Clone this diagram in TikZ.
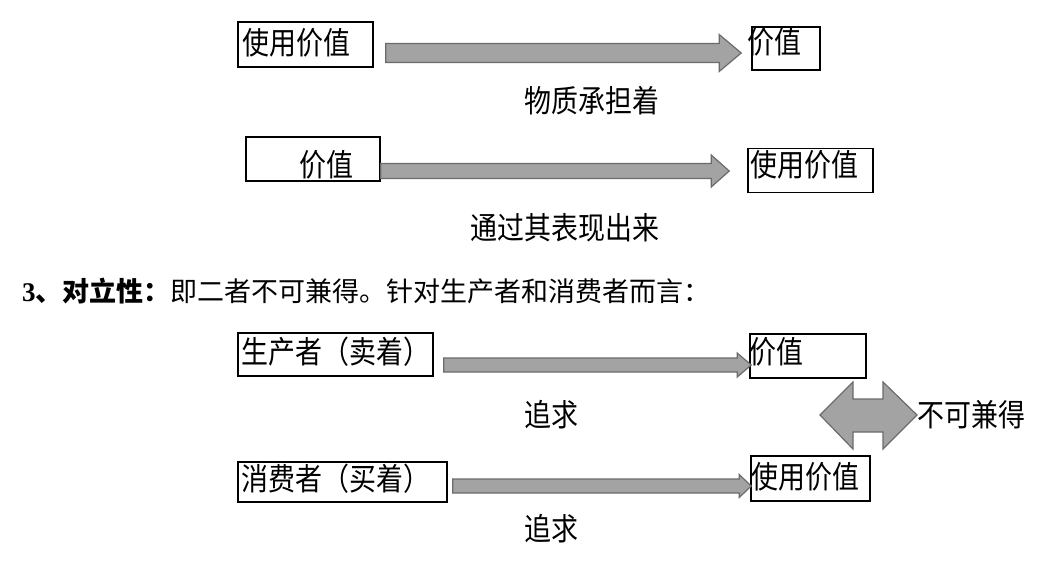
\documentclass[tikz,border=0pt]{standalone}
\usepackage{fontspec}
\setmainfont{Liberation Serif}
\newfontfamily\cjk{Noto Sans CJK SC}
\newfontfamily\cjkt{Noto Sans CJK SC}[FakeStretch=0.87]
\usetikzlibrary{calc}
\tikzset{
  box/.style={draw=black, line width=1.6pt, inner sep=0pt},
  txt/.style={font=\cjkt\fontsize{31}{33}\selectfont, inner sep=0pt, text=black},
  head/.style={font=\cjk\fontsize{27}{30}\selectfont, inner sep=0pt, text=black},
  barrow/.style={fill=black!36, draw=black!58, line width=1.2pt, line join=miter},
}
\newcommand\blockarrow[5]{%
  \filldraw[barrow] let \p1=(#1), \p2=(#2) in
    (\x1,\y1+#3pt) -- (\x2-#5pt,\y1+#3pt) -- (\x2-#5pt,\y1+#4pt) -- (\x2,\y1)
    -- (\x2-#5pt,\y1-#4pt) -- (\x2-#5pt,\y1-#3pt) -- (\x1,\y1-#3pt) -- cycle;}
\begin{document}
\begin{tikzpicture}[x=1pt,y=-1pt]
\useasboundingbox[fill=white] (0,0) rectangle (1044,566);
% row 1
\node[box, minimum width=135pt, minimum height=45pt] (b1) at (305.5,44.5) {};
\node[box, minimum width=68pt, minimum height=43pt] (b2) at (786,48.5) {};
\coordinate (s1) at ($(b1.east)+(12,8.5)$);
\coordinate (e1) at ($(b2.west)+(-10,4.5)$);
\blockarrow{s1}{e1}{9.5}{18.5}{22}
\node[txt, anchor=west] (t1) at (242,43) {使用价值};
\node[txt, anchor=west] (t2) at (747,42) {价值};
\node[txt] (l1) at (592,101) {物质承担着};
% row 2
\node[box, minimum width=134pt, minimum height=44pt] (b3) at (313,159) {};
\node[box, minimum width=125pt, minimum height=44pt] (b4) at (810.5,170.5) {};
\coordinate (s2) at ($(b3.east)+(0,12)$);
\coordinate (e2) at ($(b4.west)+(-18,0.5)$);
\blockarrow{s2}{e2}{7.5}{16}{18}
\node[txt, anchor=west] (t3) at (299,165) {价值};
\node[txt, anchor=west] (t4) at (750,165) {使用价值};
\node[txt] (l2) at (565,228) {通过其表现出来};
% heading
\node[head, anchor=west] (h) at (22,291) {{\rmfamily\bfseries 3}\textbf{、对立性：}即二者不可兼得。针对生产者和消费者而言：};
% row 3
\node[box, minimum width=195pt, minimum height=43pt] (b5) at (335.5,354.5) {};
\node[box, minimum width=116pt, minimum height=44pt] (b6) at (808,356) {};
\coordinate (s3) at ($(b5.east)+(10,10.5)$);
\coordinate (e3) at ($(b6.west)+(2,9)$);
\blockarrow{s3}{e3}{7}{12}{14}
\node[txt, anchor=west] (t5) at (241,352) {生产者（卖着）};
\node[txt, anchor=west] (t6) at (749,352) {价值};
\node[txt] (l3) at (551,415) {追求};
% double arrow
\filldraw[barrow] (820,415) -- (853,382) -- (853,399) -- (883,399) -- (883,382)
  -- (917,415) -- (883,449) -- (883,432) -- (853,432) -- (853,449) -- cycle;
\node[txt, anchor=west] (l5) at (917,415) {不可兼得};
% row 4
\node[box, minimum width=209pt, minimum height=40pt] (b7) at (342.5,482) {};
\node[box, minimum width=119pt, minimum height=45pt] (b8) at (810.5,478.5) {};
\coordinate (s4) at ($(b7.east)+(5,4)$);
\coordinate (e4) at ($(b8.west)+(1,7)$);
\blockarrow{s4}{e4}{7}{11.5}{12}
\node[txt, anchor=west] (t7) at (241,479) {消费者（买着）};
\node[txt, anchor=west] (t8) at (751,477) {使用价值};
\node[txt] (l4) at (551,529) {追求};
\end{tikzpicture}
\end{document}
